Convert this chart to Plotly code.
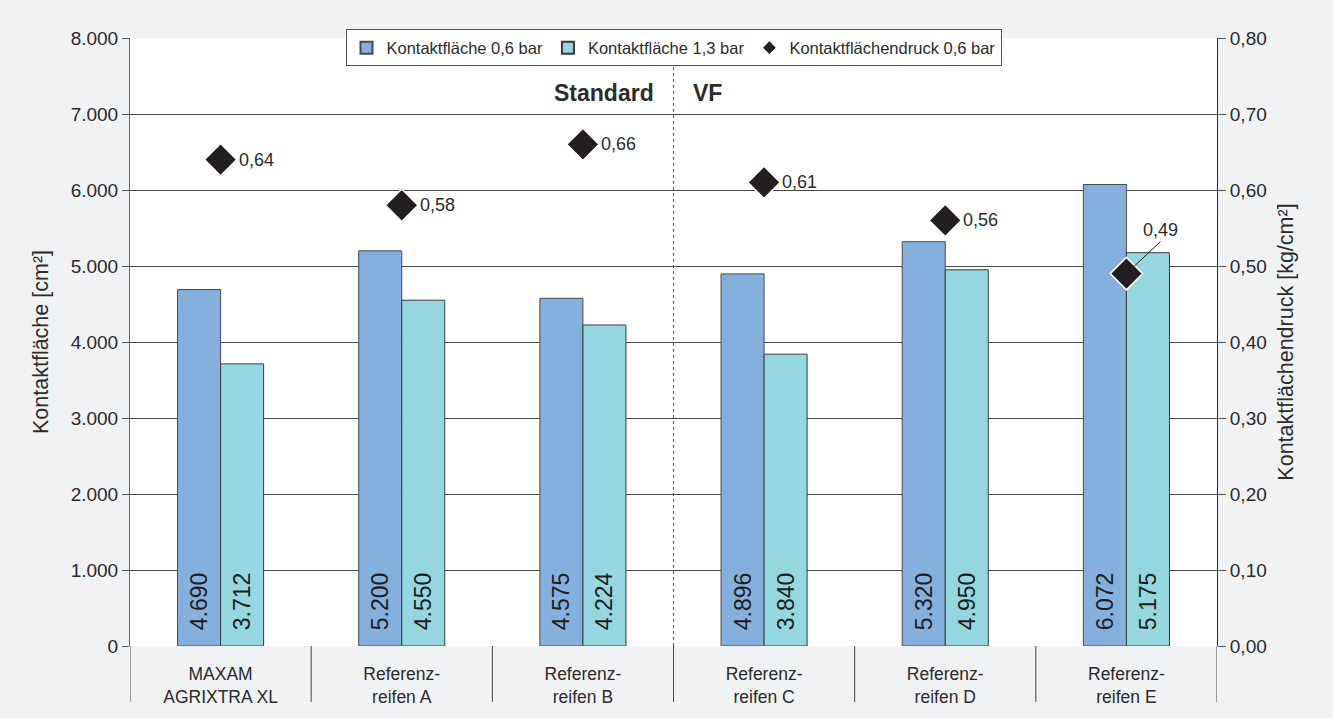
import plotly.graph_objects as go

# Tyre names (two-line axis labels)
categories = ["MAXAM<br>AGRIXTRA XL", "Referenz-<br>reifen A", "Referenz-<br>reifen B",
              "Referenz-<br>reifen C", "Referenz-<br>reifen D", "Referenz-<br>reifen E"]
# Contact area in cm²
area_06 = [4690, 5200, 4575, 4896, 5320, 6072]
area_13 = [3712, 4550, 4224, 3840, 4950, 5175]
# Contact pressure at 0.6 bar in kg/cm²
pressure_06 = [0.64, 0.58, 0.66, 0.61, 0.56, 0.49]

left_ticks = [0, 1000, 2000, 3000, 4000, 5000, 6000, 7000, 8000]
right_ticks = [0, 0.1, 0.2, 0.3, 0.4, 0.5, 0.6, 0.7, 0.8]

FONT = "Liberation Sans, Arial, sans-serif"
TXT = "#2b2b2b"
GRID = "#4a4a4a"
xs = list(range(len(categories)))
PAD = "\u00a0\u00a0"  # lifts the value labels off the bar base


def de_int(v):
    return f"{v:,}".replace(",", ".")


def de_dec(v):
    return f"{v:.2f}".replace(".", ",")


fig = go.Figure()
fig.add_trace(go.Bar(
    x=xs, y=area_06, name="Kontaktfläche 0,6 bar",
    marker=dict(color="#85b0de", line=dict(color="#4a4a4a", width=1)),
    text=[PAD + de_int(v) for v in area_06], textposition="inside",
    insidetextanchor="start", textangle=-90,
    textfont=dict(size=23, color="#1e1e1e", family=FONT),
))
fig.add_trace(go.Bar(
    x=xs, y=area_13, name="Kontaktfläche 1,3 bar",
    marker=dict(color="#95d7e0", line=dict(color="#3a3a3a", width=1)),
    text=[PAD + de_int(v) for v in area_13], textposition="inside",
    insidetextanchor="start", textangle=-90,
    textfont=dict(size=23, color="#1e1e1e", family=FONT),
))
fig.add_trace(go.Scatter(
    x=xs, y=pressure_06, name="Kontaktflächendruck 0,6 bar", yaxis="y2",
    mode="markers",
    marker=dict(symbol="diamond", size=25, color="#231f20",
                line=dict(color="white", width=1.5)),
))

# Value labels beside the diamonds
for i, p in enumerate(pressure_06):
    if i == len(pressure_06) - 1:
        fig.add_annotation(x=i, y=p, yref="y2", text=de_dec(p), showarrow=True,
                           arrowhead=0, arrowwidth=1, arrowcolor="#231f20",
                           ax=34, ay=-32, xanchor="center", yanchor="bottom",
                           standoff=9, font=dict(size=18, color=TXT, family=FONT))
    else:
        fig.add_annotation(x=i, y=p, yref="y2", text=de_dec(p), showarrow=False,
                           xanchor="left", yanchor="middle", xshift=16,
                           font=dict(size=18, color=TXT, family=FONT))

# Category separators below the axis
shapes = []
for b in [i - 0.5 for i in range(len(categories) + 1)]:
    shapes.append(dict(type="line", xref="x", yref="paper", x0=b, x1=b, y0=0, y1=-0.092,
                       line=dict(color="#444444", width=1)))
# Standard / VF divider
shapes.append(dict(type="line", xref="x", yref="paper", x0=2.5, x1=2.5, y0=0, y1=1,
                   line=dict(color="#666666", width=1.2, dash="dot")))
fig.update_layout(shapes=shapes)

fig.add_annotation(x=2.5, y=0.9095, xref="x", yref="paper", text="<b>Standard</b>",
                   showarrow=False, xanchor="right", yanchor="middle", xshift=-18,
                   font=dict(size=23, color=TXT, family=FONT))
fig.add_annotation(x=2.5, y=0.9095, xref="x", yref="paper", text="<b>VF</b>",
                   showarrow=False, xanchor="left", yanchor="middle", xshift=17,
                   font=dict(size=23, color=TXT, family=FONT))

fig.update_layout(
    width=1333, height=718,
    margin=dict(l=130, r=116, t=38, b=72),
    paper_bgcolor="#f1f2f4", plot_bgcolor="white",
    separators=",.",
    font=dict(family=FONT, color=TXT),
    barmode="group", bargap=0.525, bargroupgap=0,
    uniformtext=dict(minsize=23, mode="show"),
    showlegend=True,
    legend=dict(orientation="h", x=0.5, xanchor="center", y=1.014, yanchor="top",
                bgcolor="white", bordercolor="#555555", borderwidth=1,
                font=dict(size=16.5, color=TXT, family=FONT),
                itemsizing="constant", traceorder="normal"),
    xaxis=dict(tickmode="array", tickvals=xs, ticktext=categories, range=[-0.5, 5.5],
               showgrid=False, zeroline=False, showline=False,
               ticks="outside", ticklen=12, tickcolor="rgba(0,0,0,0)",
               tickfont=dict(size=17.5, color=TXT, family=FONT)),
    yaxis=dict(title=dict(text="Kontaktfläche [cm²]", font=dict(size=21.5, color=TXT), standoff=16),
               range=[0, 8000], tickvals=left_ticks, tickformat=",d",
               showgrid=True, gridcolor=GRID, gridwidth=1, zeroline=False,
               showline=True, linecolor="#6a6a6a", linewidth=1,
               ticks="outside", ticklen=7, tickcolor="#555555",
               tickfont=dict(size=19, color=TXT, family=FONT)),
    yaxis2=dict(title=dict(text="Kontaktflächendruck [kg/cm²]", font=dict(size=21.5, color=TXT), standoff=12),
                overlaying="y", side="right", range=[0, 0.8], tickvals=right_ticks,
                tickformat=".2f", showgrid=False, zeroline=False,
                showline=True, linecolor="#2a2a2a", linewidth=1,
                ticks="outside", ticklen=8, tickcolor="#555555",
                tickfont=dict(size=19, color=TXT, family=FONT)),
)

fig.write_html("out.html")
